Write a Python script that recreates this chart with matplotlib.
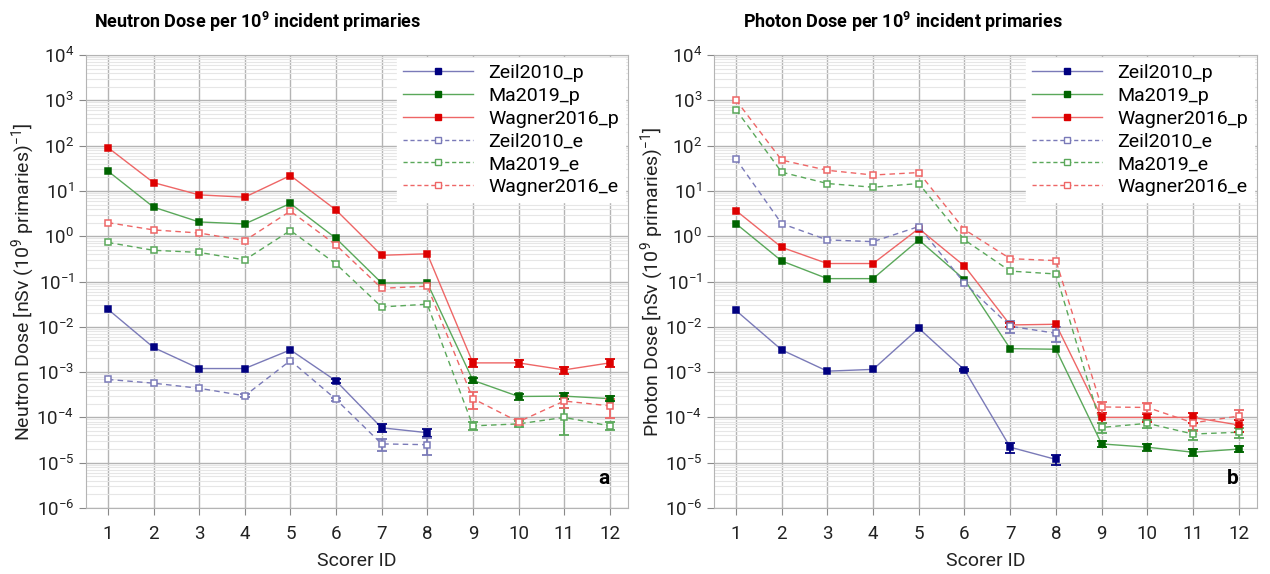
import matplotlib
matplotlib.use("Agg")
import matplotlib.pyplot as plt
import numpy as np
from matplotlib.ticker import LogLocator, NullFormatter

plt.rcParams['font.family'] = ['Roboto', 'DejaVu Sans']
plt.rcParams['mathtext.fontset'] = 'custom'
plt.rcParams['mathtext.rm'] = 'Roboto'
plt.rcParams['mathtext.bf'] = 'Roboto:bold'

scorers = list(range(1, 13))
series_names = ["Zeil2010_p", "Ma2019_p", "Wagner2016_p", "Zeil2010_e", "Ma2019_e", "Wagner2016_e"]

# Neutron dose (panel a)
n_zeil_p = [0.0245, 0.0035, 0.0012, 0.0012, 0.0031, 0.00064, 5.9e-5, 4.6e-5, None, None, None, None]
n_ma_p = [27.6, 4.4, 2.07, 1.87, 5.3, 0.9, 0.093, 0.093, 6.6e-4, 2.9e-4, 2.95e-4, 2.6e-4]
n_wag_p = [91, 15.3, 8.2, 7.3, 21.9, 3.8, 0.38, 0.41, 1.6e-3, 1.6e-3, 1.12e-3, 1.6e-3]
n_zeil_e = [6.9e-4, 5.7e-4, 4.4e-4, 3.0e-4, 1.8e-3, 2.5e-4, 2.6e-5, 2.5e-5, None, None, None, None]
n_ma_e = [0.73, 0.49, 0.44, 0.30, 1.34, 0.245, 0.0275, 0.0316, 6.5e-5, 7.2e-5, 1.0e-4, 6.5e-5]
n_wag_e = [2.0, 1.38, 1.18, 0.80, 3.6, 0.64, 0.071, 0.079, 2.6e-4, 8.0e-5, 2.3e-4, 1.8e-4]

# relative errors (panel a); 0 = error bar hidden behind the marker
n_zeil_p_err = [0, 0, 0, 0, 0, 0.08, 0.2, 0.2, 0, 0, 0, 0]
n_ma_p_err = [0, 0, 0, 0, 0, 0, 0, 0, 0.12, 0.15, 0.15, 0.12]
n_wag_p_err = [0, 0, 0, 0, 0, 0, 0, 0, 0.2, 0.18, 0.18, 0.2]
n_zeil_e_err = [0, 0, 0, 0.08, 0, 0.08, 0.3, 0.4, 0, 0, 0, 0]
n_ma_e_err = [0, 0, 0, 0, 0, 0, 0, 0, 0.2, 0.15, 0.6, 0.2]
n_wag_e_err = [0, 0, 0, 0, 0, 0, 0, 0, 0.4, 0.15, 0.3, 0.45]

# Photon dose (panel b)
p_zeil_p = [0.023, 3.1e-3, 1.05e-3, 1.15e-3, 9.3e-3, 1.12e-3, 2.2e-5, 1.18e-5, None, None, None, None]
p_ma_p = [1.9, 0.285, 0.116, 0.116, 0.83, 0.11, 3.3e-3, 3.2e-3, 2.6e-5, 2.2e-5, 1.7e-5, 2.0e-5]
p_wag_p = [3.7, 0.57, 0.25, 0.25, 1.48, 0.22, 0.011, 0.0114, 1.0e-4, 1.0e-4, 1.0e-4, 6.8e-5]
p_zeil_e = [51, 1.9, 0.83, 0.76, 1.64, 0.092, 0.0103, 7.2e-3, None, None, None, None]
p_ma_e = [626, 26, 14.6, 12.1, 14.6, 0.83, 0.17, 0.147, 6.0e-5, 7.4e-5, 4.3e-5, 4.7e-5]
p_wag_e = [1020, 48, 28.6, 22.5, 25.5, 1.4, 0.32, 0.29, 1.7e-4, 1.66e-4, 7.6e-5, 1.07e-4]

p_zeil_p_err = [0, 0, 0, 0, 0, 0.05, 0.25, 0.25, 0, 0, 0, 0]
p_ma_p_err = [0, 0, 0, 0, 0, 0, 0, 0, 0.15, 0.18, 0.18, 0.15]
p_wag_p_err = [0, 0, 0, 0, 0, 0, 0.08, 0, 0.25, 0.2, 0.25, 0.3]
p_zeil_e_err = [0, 0, 0, 0, 0, 0, 0.3, 0.35, 0, 0, 0, 0]
p_ma_e_err = [0, 0, 0, 0, 0, 0, 0, 0, 0.25, 0.2, 0.25, 0.25]
p_wag_e_err = [0, 0, 0, 0, 0, 0, 0, 0, 0.3, 0.25, 0.35, 0.35]

marker_colors = ["#000080", "#006400", "#dd0000", "#000080", "#006400", "#dd0000"]
line_colors = ["#7a7ab8", "#5aa85a", "#ee6666", "#7a7ab8", "#5aa85a", "#ee6666"]

panels = [
    dict(title="Neutron Dose per 10$^{\\mathbf{9}}$ incident primaries",
         ylabel="Neutron Dose [nSv (10$^{9}$ primaries)$^{-1}$]",
         letter="a", title_x=258 / 1270, ylabel_x=-0.088,
         data=[n_zeil_p, n_ma_p, n_wag_p, n_zeil_e, n_ma_e, n_wag_e],
         errs=[n_zeil_p_err, n_ma_p_err, n_wag_p_err, n_zeil_e_err, n_ma_e_err, n_wag_e_err],
         rect=[0.0677, 0.115, 0.4268, 0.789]),
    dict(title="Photon Dose per 10$^{\\mathbf{9}}$ incident primaries",
         ylabel="Photon Dose [nSv (10$^{9}$ primaries)$^{-1}$]",
         letter="b", title_x=903 / 1270, ylabel_x=-0.087,
         data=[p_zeil_p, p_ma_p, p_wag_p, p_zeil_e, p_ma_e, p_wag_e],
         errs=[p_zeil_p_err, p_ma_p_err, p_wag_p_err, p_zeil_e_err, p_ma_e_err, p_wag_e_err],
         rect=[0.5622, 0.115, 0.4276, 0.789]),
]

fig = plt.figure(figsize=(12.7, 5.74), dpi=100)

for p in panels:
    ax = fig.add_axes(p["rect"])
    ax.set_yscale("log")
    for i, (name, vals, rel) in enumerate(zip(series_names, p["data"], p["errs"])):
        x = np.array([s for s, v in zip(scorers, vals) if v is not None], dtype=float)
        y = np.array([v for v in vals if v is not None], dtype=float)
        r = np.array([q for q, v in zip(rel, vals) if v is not None], dtype=float)
        is_e = name.endswith("_e")
        ax.plot(x, y, color=line_colors[i], lw=1.0, ls=(0, (4, 3)) if is_e else "-", zorder=2)
        m = r > 0
        if m.any():
            ax.errorbar(x[m], y[m], yerr=r[m] * y[m], fmt="none",
                        ecolor=marker_colors[i] if not is_e else line_colors[i],
                        elinewidth=1.3, capsize=3.5, capthick=1.3, zorder=3)
        ax.plot(x, y, ls="none", marker="s", ms=5,
                mfc="white" if is_e else marker_colors[i],
                mec=line_colors[i] if is_e else marker_colors[i], mew=1.1, zorder=4)
        # legend proxy
        ax.plot([], [], color=line_colors[i], lw=1.0, ls=(0, (3, 2)) if is_e else "-",
                marker="s", ms=4.5, mfc="white" if is_e else marker_colors[i],
                mec=line_colors[i] if is_e else marker_colors[i], mew=1.0, label=name)
    ax.set_xlim(0.52, 12.4)
    ax.set_ylim(1e-6, 1e4)
    ax.set_xticks(scorers)
    ax.yaxis.set_major_locator(LogLocator(base=10, numticks=20))
    ax.yaxis.set_minor_locator(LogLocator(base=10, subs=np.arange(2, 10), numticks=100))
    ax.yaxis.set_minor_formatter(NullFormatter())
    ax.grid(True, which="major", color="#b4b4b4", lw=1.0, zorder=0)
    ax.grid(True, which="minor", axis="y", color="#e6e6e6", lw=0.8, zorder=0)
    ax.set_axisbelow(True)
    for s in ax.spines.values():
        s.set_color("#b4b4b4")
    ax.tick_params(axis="both", which="major", labelsize=13.5, colors="#222222",
                   length=5, color="#888888", labelcolor="#222222")
    ax.tick_params(axis="y", which="minor", length=0)
    ax.tick_params(axis="x", pad=7)
    ax.set_xlabel("Scorer ID", fontsize=14, labelpad=7, color="#222222")
    ax.set_ylabel(p["ylabel"], fontsize=14, color="#222222")
    ax.yaxis.set_label_coords(p["ylabel_x"], 0.5)
    fig.text(p["title_x"], 1 - 22 / 574, p["title"], fontsize=13, fontweight="bold",
             ha="center", va="center")
    handles, labels = ax.get_legend_handles_labels()
    ax.legend(handles[-6:], labels[-6:], loc="upper right", fontsize=14,
              frameon=True, fancybox=False, framealpha=1.0, edgecolor="white",
              borderaxespad=0.15, handlelength=3.6, labelspacing=0.25,
              borderpad=0.3, handletextpad=0.8)
    ax.text(0.955, 0.045, p["letter"], transform=ax.transAxes, fontsize=15,
            fontweight="bold", ha="center", va="bottom")

fig.savefig("out.png", dpi=100)
